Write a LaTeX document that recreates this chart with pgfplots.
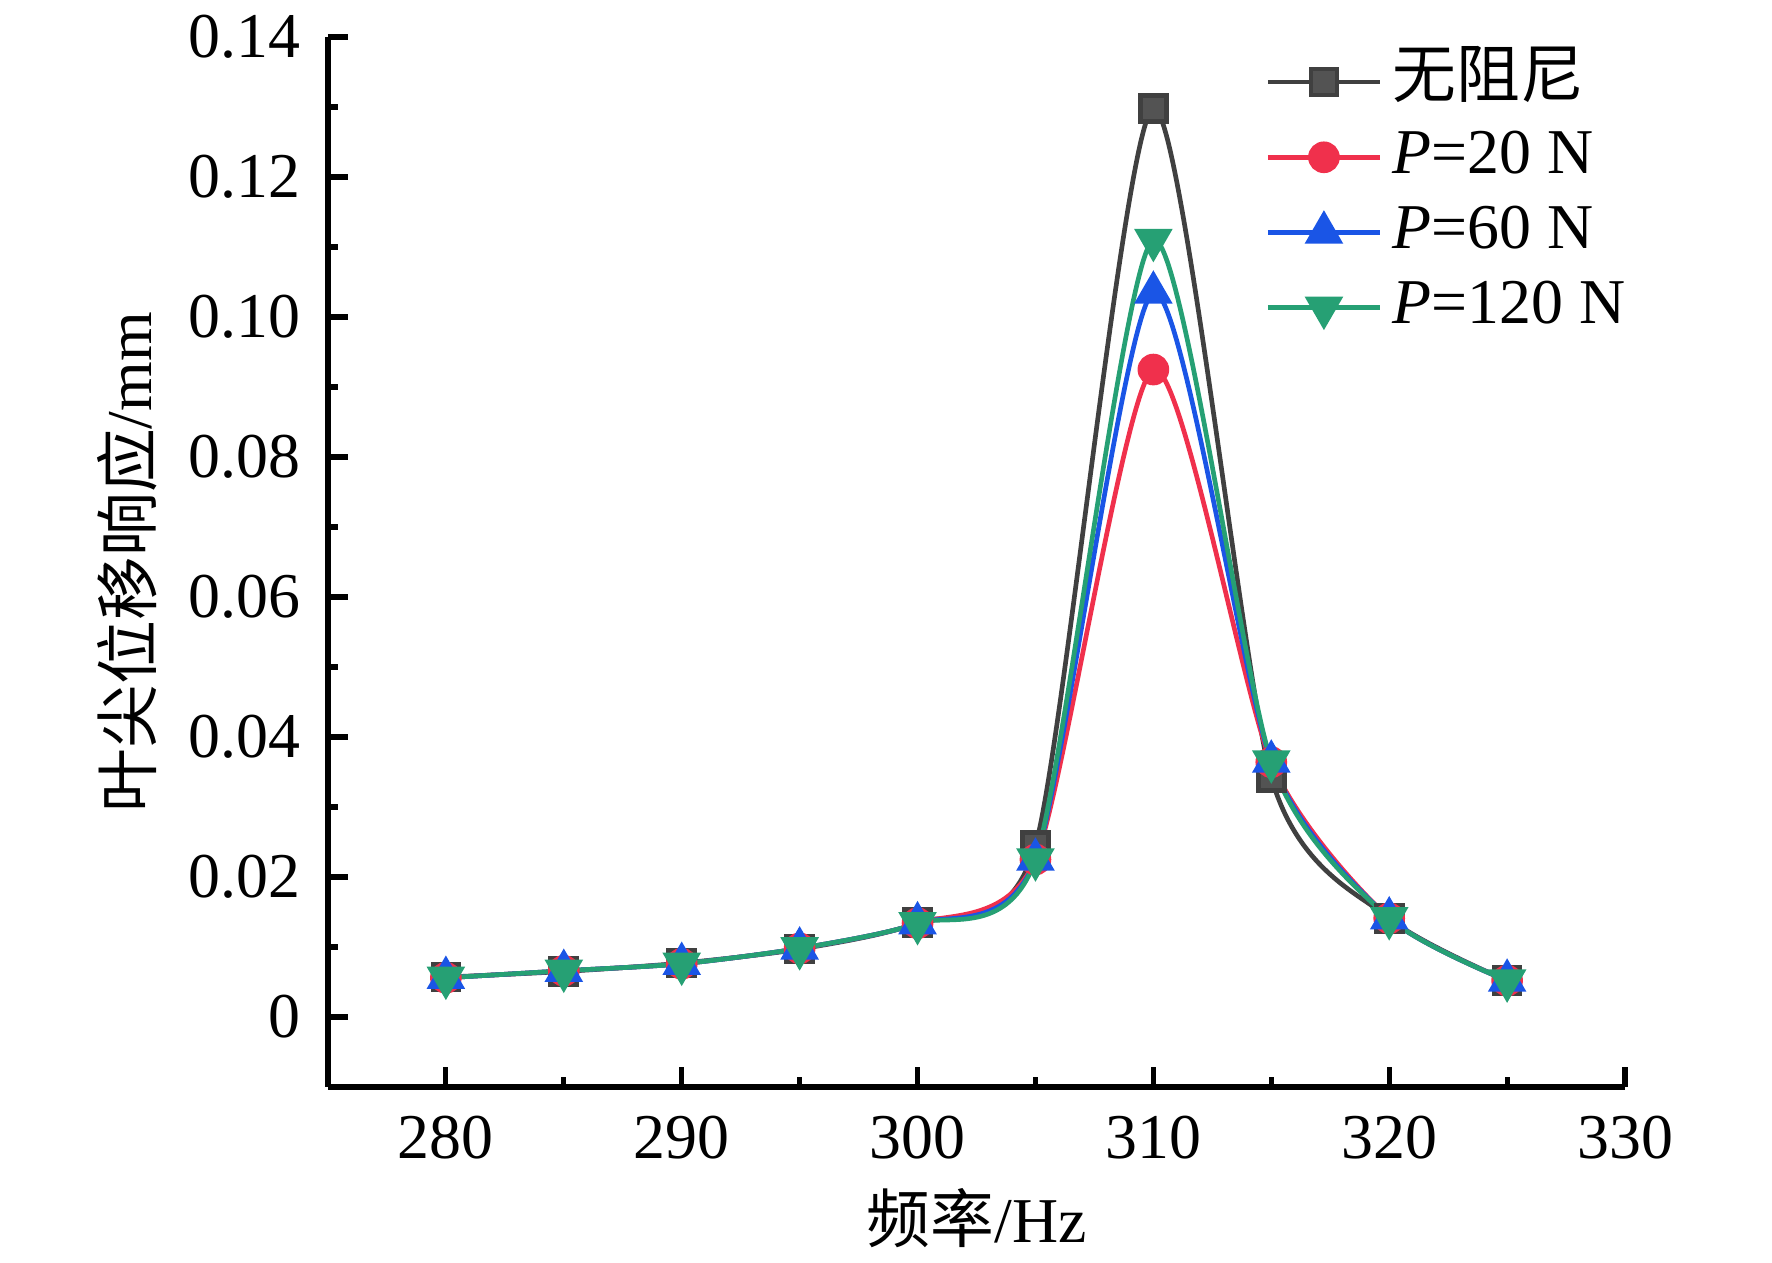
\documentclass[border=0pt]{standalone}
\usepackage{fontspec}
\setmainfont{Liberation Serif}
\newfontfamily\cjk{Noto Sans CJK SC}
\usepackage{pgfplots}
\pgfplotsset{compat=1.18}
\definecolor{cblack}{HTML}{404040}
\definecolor{cred}{HTML}{F0304C}
\definecolor{cblue}{HTML}{1A55E6}
\definecolor{cgreen}{HTML}{26A074}
\begin{document}
\fontsize{12.3}{14}\selectfont
\begin{tikzpicture}
\path[use as bounding box] (-2.221cm,-1.192cm) rectangle (9.779cm,7.361cm);
\begin{axis}[
  at={(0,0)}, anchor=south west,
  scale only axis, width=8.784cm, height=7.11cm,
  xmin=275, xmax=330, ymin=-0.01, ymax=0.14,
  axis x line*=bottom, axis y line*=left,
  axis line style={line width=1pt},
  every tick/.style={black, line width=1pt},
  tick align=inside,
  major tick length=0.135cm, minor tick length=0.065cm,
  xtick={280,290,300,310,320,330},
  xticklabels={280,290,300,310,320,330},
  minor x tick num=1,
  ytick={0,0.02,0.04,0.06,0.08,0.10,0.12,0.14},
  yticklabels={0,0.02,0.04,0.06,0.08,0.10,0.12,0.14},
  minor y tick num=1,
  tick label style={font=\fontsize{12.3}{14}\selectfont},
  yticklabel style={xshift=-1pt},
  xticklabel style={yshift=-1.3pt},
  xlabel={{\cjk 频率}/Hz},
  ylabel={{\cjk 叶尖位移响应}/mm},
  xlabel style={at={(axis description cs:0.5,-0.1248)}, anchor=center, font=\fontsize{12.3}{14}\selectfont},
  ylabel style={at={(axis description cs:-0.155,0.5)}, anchor=center, rotate=0, font=\fontsize{12.3}{14}\selectfont},
  legend cell align=left,
  legend style={draw=none, fill=none, at={(0.722,0.994)}, anchor=north west,
    inner sep=0pt, row sep=0pt,
    font=\fontsize{12.3}{14}\selectfont,
    nodes={inner xsep=2pt, inner ysep=0.5pt, text height=9.8pt, text depth=3.7pt}},
  legend image code/.code={\draw[mark repeat=2,mark phase=2] plot coordinates {(0cm,0cm) (0.38cm,0cm) (0.76cm,0cm)};},
  every axis plot/.append style={smooth, tension=0.42, line width=0.9pt},
]
\addplot[color=cblack, mark=square*, mark size=2.5pt, mark options={fill=cblack!90, draw=cblack}] coordinates {
(280,0.0057)(285,0.0065)(290,0.0077)(295,0.0097)(300,0.0135)(305,0.0245)(310,0.1298)(315,0.0342)(320,0.0141)(325,0.0052)};
\addlegendentry{\cjk 无阻尼}
\addplot[color=cred, mark=*, mark size=2.6pt, mark options={fill=cred, draw=cred}] coordinates {
(280,0.0056)(285,0.0066)(290,0.0076)(295,0.0098)(300,0.0134)(305,0.0225)(310,0.0925)(315,0.0364)(320,0.0141)(325,0.0052)};
\addlegendentry{\textit{P}=20 N}
\addplot[color=cblue, mark=triangle*, mark size=3.4pt, mark options={fill=cblue, draw=cblue}] coordinates {
(280,0.0056)(285,0.0066)(290,0.0076)(295,0.0098)(300,0.0134)(305,0.0225)(310,0.1035)(315,0.0365)(320,0.0141)(325,0.0052)};
\addlegendentry{\textit{P}=60 N}
\addplot[color=cgreen, mark=triangle*, mark size=3.4pt, mark options={fill=cgreen, draw=cgreen, rotate=180}] coordinates {
(280,0.0056)(285,0.0066)(290,0.0076)(295,0.0098)(300,0.0134)(305,0.0225)(310,0.1110)(315,0.0365)(320,0.0141)(325,0.0052)};
\addlegendentry{\textit{P}=120 N}
\end{axis}
\end{tikzpicture}
\end{document}
